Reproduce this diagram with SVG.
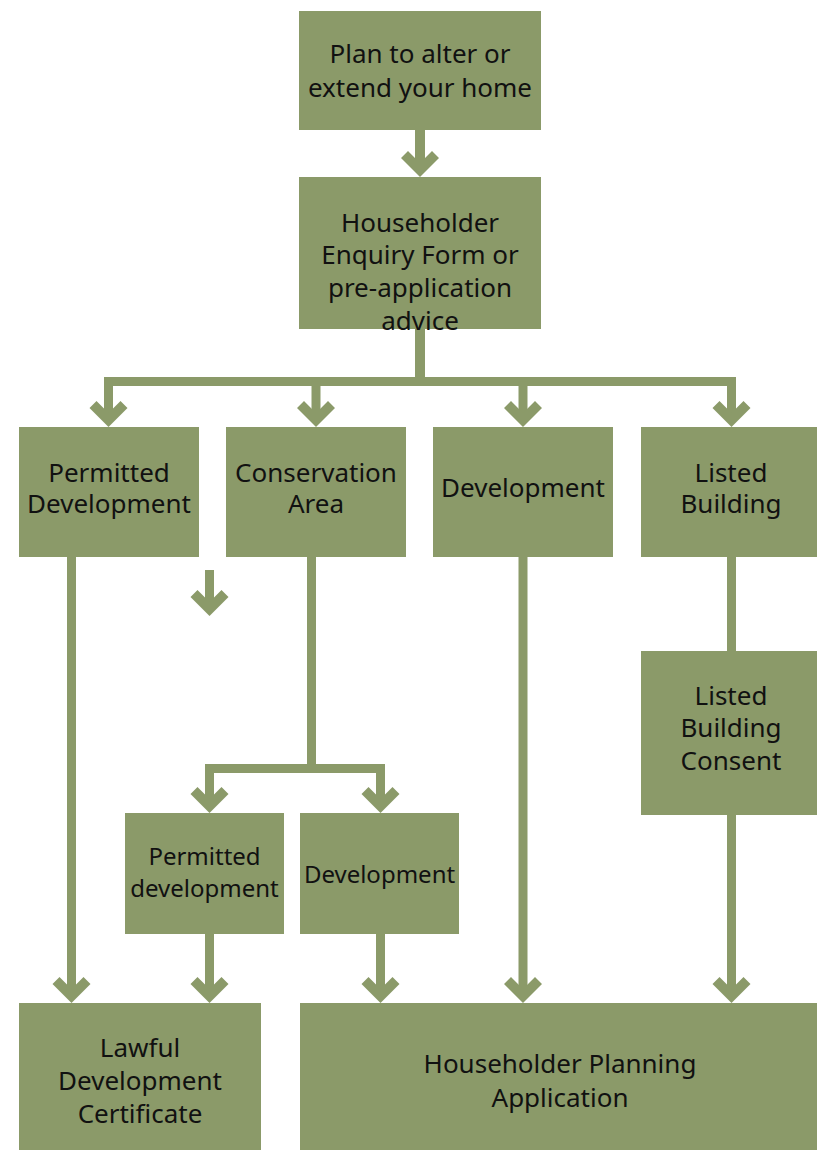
<svg xmlns="http://www.w3.org/2000/svg" xmlns:xlink="http://www.w3.org/1999/xlink" width="817" height="1150" viewBox="0 0 817 1150">
<style>
.box{fill:#8b9a69}
.t{font-family:"Noto Sans","Liberation Sans",sans-serif;font-size:26px;fill:#111;text-anchor:middle}
.s{font-size:24px}
.ln{fill:none;stroke:#8b9a69;stroke-width:9;stroke-linejoin:miter}
.hd{fill:#8b9a69}
</style>
<defs>
<polygon id="chev" points="0,0 -19,-19 -12,-26 0,-14 12,-26 19,-19"/>
</defs>
<rect width="817" height="1150" fill="#ffffff"/>
<g id="connectors">
<rect class="hd" x="415" y="130" width="10" height="40"/>
<use href="#chev" class="hd" x="420" y="177"/>
<rect class="hd" x="415" y="329" width="10" height="57"/>
<path class="ln" d="M108.5,420 V381.5 H731.5 V420"/>
<path class="ln" d="M316,381.5 V420"/>
<path class="ln" d="M523,381.5 V420"/>
<use href="#chev" class="hd" x="108.5" y="427"/>
<use href="#chev" class="hd" x="316" y="427"/>
<use href="#chev" class="hd" x="523" y="427"/>
<use href="#chev" class="hd" x="731.5" y="427"/>
<path class="ln" d="M71.5,557 V996"/>
<use href="#chev" class="hd" x="71.5" y="1003"/>
<path class="ln" d="M209.5,570 V609"/>
<use href="#chev" class="hd" x="209.5" y="616"/>
<path class="ln" d="M311.5,557 V768.5"/>
<path class="ln" d="M209.5,806 V768.5 H380.5 V806"/>
<use href="#chev" class="hd" x="209.5" y="813"/>
<use href="#chev" class="hd" x="380.5" y="813"/>
<path class="ln" d="M209.5,934 V996"/>
<use href="#chev" class="hd" x="209.5" y="1003"/>
<path class="ln" d="M380.5,934 V996"/>
<use href="#chev" class="hd" x="380.5" y="1003"/>
<path class="ln" d="M523,557 V996"/>
<use href="#chev" class="hd" x="523" y="1003"/>
<path class="ln" d="M731.5,557 V651"/>
<path class="ln" d="M731.5,815 V996"/>
<use href="#chev" class="hd" x="731.5" y="1003"/>
</g>
<g id="n1"><rect class="box" x="299" y="11" width="242" height="119"/>
<text class="t" x="420" y="63">Plan to alter or</text><text class="t" x="420" y="97">extend your home</text></g>
<g id="n2"><rect class="box" x="299" y="177" width="242" height="152"/>
<text class="t" x="420" y="232">Householder</text><text class="t" x="420" y="264">Enquiry Form or</text><text class="t" x="420" y="297">pre-application</text><text class="t" x="420" y="330">advice</text></g>
<g id="n3"><rect class="box" x="19" y="427" width="180" height="130"/>
<text class="t" x="109" y="482">Permitted</text><text class="t" x="109" y="513">Development</text></g>
<g id="n4"><rect class="box" x="226" y="427" width="180" height="130"/>
<text class="t" x="316" y="482">Conservation</text><text class="t" x="316" y="513">Area</text></g>
<g id="n5"><rect class="box" x="433" y="427" width="180" height="130"/>
<text class="t" x="523" y="497">Development</text></g>
<g id="n6"><rect class="box" x="641" y="427" width="176" height="130"/>
<text class="t" x="731" y="482">Listed</text><text class="t" x="731" y="513">Building</text></g>
<g id="n7"><rect class="box" x="641" y="651" width="176" height="164"/>
<text class="t" x="731" y="705">Listed</text><text class="t" x="731" y="737">Building</text><text class="t" x="731" y="770">Consent</text></g>
<g id="n8"><rect class="box" x="125" y="813" width="159" height="121"/>
<text class="t s" x="204.5" y="865">Permitted</text><text class="t s" x="204.5" y="897">development</text></g>
<g id="n9"><rect class="box" x="300" y="813" width="159" height="121"/>
<text class="t s" x="379.5" y="883">Development</text></g>
<g id="n10"><rect class="box" x="19" y="1003" width="242" height="147"/>
<text class="t" x="140" y="1057">Lawful</text><text class="t" x="140" y="1090">Development</text><text class="t" x="140" y="1123">Certificate</text></g>
<g id="n11"><rect class="box" x="300" y="1003" width="517" height="147"/>
<text class="t" x="560" y="1073">Householder Planning</text><text class="t" x="560" y="1107">Application</text></g>
</svg>
